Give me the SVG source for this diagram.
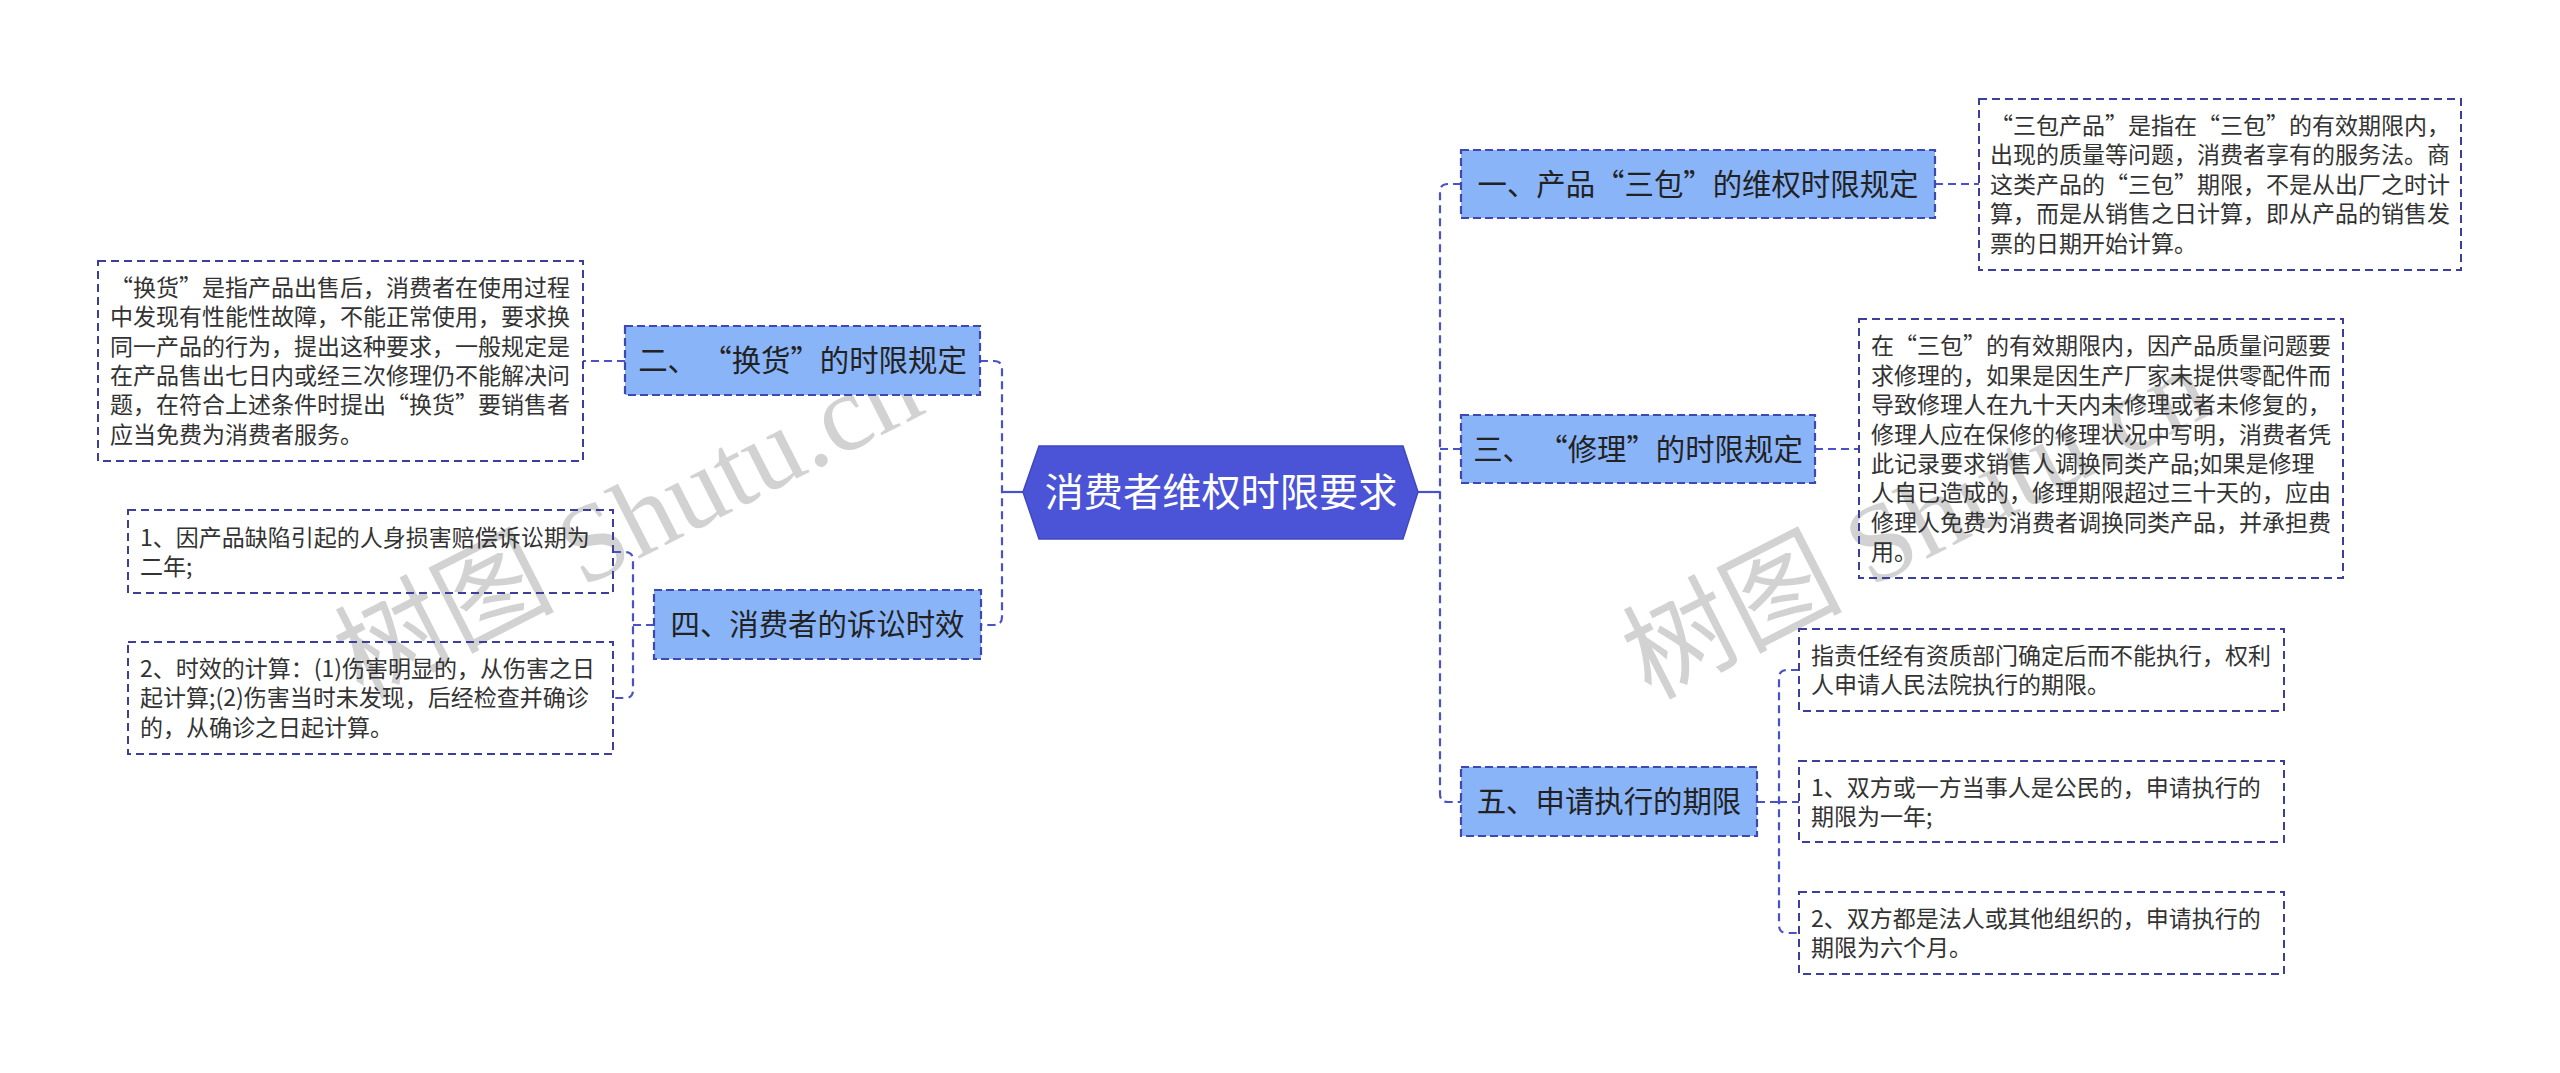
<svg xmlns="http://www.w3.org/2000/svg" width="2560" height="1073" viewBox="0 0 2560 1073">
<style>
.wm{font-family:"Liberation Serif","Noto Sans CJK SC",serif;font-size:110px;fill:#d2d2d2}
.conn{fill:none;stroke:#4A52C8;stroke-width:2.2;stroke-dasharray:8 5}
.solid{fill:none;stroke:#4A52C8;stroke-width:2.2}
.node rect{fill:#8AB4F8;stroke:#3F48B0;stroke-width:2.2;stroke-dasharray:8 4}
.node text{font-family:"Noto Sans CJK SC",sans-serif;font-size:29.4px;fill:#222;text-anchor:middle}
.box rect{fill:none;stroke:#3C3F99;stroke-width:2;stroke-dasharray:8 5}
.box text{font-family:"Noto Sans CJK SC",sans-serif;font-size:23px;fill:#333}
.root polygon{fill:#4B53D6;stroke:#4048C0;stroke-width:1.5}
.root text{font-family:"Noto Sans CJK SC",sans-serif;font-size:39.2px;fill:#fff;text-anchor:middle}
</style>
<rect width="2560" height="1073" fill="#fff"/>
<g id="watermarks">
<text class="wm" transform="translate(362,700) rotate(-27)">树图 Shutu.cn</text>
<text class="wm" transform="translate(1650,700) rotate(-27)">树图 Shutu.cn</text>
</g>
<g id="connectors">
<path class="solid" d="M1418,492 H1440"/>
<path class="conn" d="M1461,184 H1448 Q1440,184 1440,192 V794 Q1440,802 1448,802 H1461"/>
<path class="conn" d="M1440,449 H1461"/>
<path class="conn" d="M1935,184 H1979"/>
<path class="conn" d="M1815,449 H1859"/>
<path class="conn" d="M1757,802 H1779"/>
<path class="conn" d="M1799,670 H1787 Q1779,670 1779,678 V925 Q1779,933 1787,933 H1799"/>
<path class="conn" d="M1779,802 H1799"/>
<path class="solid" d="M1023,492 H1002"/>
<path class="conn" d="M980,361 H994 Q1002,361 1002,369 V617 Q1002,625 994,625 H981"/>
<path class="conn" d="M625,361 H583"/>
<path class="conn" d="M654,625 H633"/>
<path class="conn" d="M613,552 H625 Q633,552 633,560 V690 Q633,698 625,698 H613"/>
</g>
<g id="root" class="root">
<polygon points="1023,492 1039,446 1403,446 1418,492 1403,539 1039,539"/>
<text x="1221" y="506">消费者维权时限要求</text>
</g>
<g id="n1" class="node">
<rect x="1461" y="150" width="474" height="68"/>
<text x="1698" y="194.6">一、产品“三包”的维权时限规定</text>
</g>
<g id="n1b" class="box">
<rect x="1979" y="99" width="482" height="171"/>
<text><tspan x="1990" y="134">“三包产品”是指在“三包”的有效期限内，</tspan><tspan x="1990" y="163.4">出现的质量等问题，消费者享有的服务法。商</tspan><tspan x="1990" y="192.8">这类产品的“三包”期限，不是从出厂之时计</tspan><tspan x="1990" y="222.2">算，而是从销售之日计算，即从产品的销售发</tspan><tspan x="1990" y="251.6">票的日期开始计算。</tspan></text>
</g>
<g id="n3" class="node">
<rect x="1461" y="415" width="354" height="68"/>
<text x="1638" y="459.6">三、<tspan dx="21">“修理”的时限规定</tspan></text>
</g>
<g id="n3b" class="box">
<rect x="1859" y="319" width="484" height="259"/>
<text><tspan x="1871" y="354.4">在“三包”的有效期限内，因产品质量问题要</tspan><tspan x="1871" y="383.8">求修理的，如果是因生产厂家未提供零配件而</tspan><tspan x="1871" y="413.2">导致修理人在九十天内未修理或者未修复的，</tspan><tspan x="1871" y="442.6">修理人应在保修的修理状况中写明，消费者凭</tspan><tspan x="1871" y="472">此记录要求销售人调换同类产品;如果是修理</tspan><tspan x="1871" y="501.4">人自已造成的，修理期限超过三十天的，应由</tspan><tspan x="1871" y="530.8">修理人免费为消费者调换同类产品，并承担费</tspan><tspan x="1871" y="560.2">用。</tspan></text>
</g>
<g id="n5" class="node">
<rect x="1461" y="767" width="296" height="69"/>
<text x="1609" y="812">五、申请执行的期限</text>
</g>
<g id="n5a" class="box">
<rect x="1799" y="629" width="485" height="82"/>
<text><tspan x="1811" y="664">指责任经有资质部门确定后而不能执行，权利</tspan><tspan x="1811" y="693.4">人申请人民法院执行的期限。</tspan></text>
</g>
<g id="n5b" class="box">
<rect x="1799" y="761" width="485" height="81"/>
<text><tspan x="1811" y="795.5">1、双方或一方当事人是公民的，申请执行的</tspan><tspan x="1811" y="824.9">期限为一年;</tspan></text>
</g>
<g id="n5c" class="box">
<rect x="1799" y="892" width="485" height="82"/>
<text><tspan x="1811" y="927">2、双方都是法人或其他组织的，申请执行的</tspan><tspan x="1811" y="956.4">期限为六个月。</tspan></text>
</g>
<g id="n2" class="node">
<rect x="625" y="326" width="355" height="69"/>
<text x="802.5" y="371">二、<tspan dx="20">“换货”的时限规定</tspan></text>
</g>
<g id="n2b" class="box">
<rect x="98" y="261" width="485" height="200"/>
<text><tspan x="110" y="295.8">“换货”是指产品出售后，消费者在使用过程</tspan><tspan x="110" y="325.2">中发现有性能性故障，不能正常使用，要求换</tspan><tspan x="110" y="354.6">同一产品的行为，提出这种要求，一般规定是</tspan><tspan x="110" y="384">在产品售出七日内或经三次修理仍不能解决问</tspan><tspan x="110" y="413.4">题，在符合上述条件时提出“换货”要销售者</tspan><tspan x="110" y="442.8">应当免费为消费者服务。</tspan></text>
</g>
<g id="n4" class="node">
<rect x="654" y="590" width="327" height="69"/>
<text x="817.5" y="635">四、消费者的诉讼时效</text>
</g>
<g id="n4a" class="box">
<rect x="128" y="510" width="485" height="83"/>
<text><tspan x="140" y="545.5">1、因产品缺陷引起的人身损害赔偿诉讼期为</tspan><tspan x="140" y="574.9">二年;</tspan></text>
</g>
<g id="n4b" class="box">
<rect x="128" y="642" width="485" height="112"/>
<text><tspan x="140" y="677">2、时效的计算：(1)伤害明显的，从伤害之日</tspan><tspan x="140" y="706.4">起计算;(2)伤害当时未发现，后经检查并确诊</tspan><tspan x="140" y="735.8">的，从确诊之日起计算。</tspan></text>
</g>
</svg>
